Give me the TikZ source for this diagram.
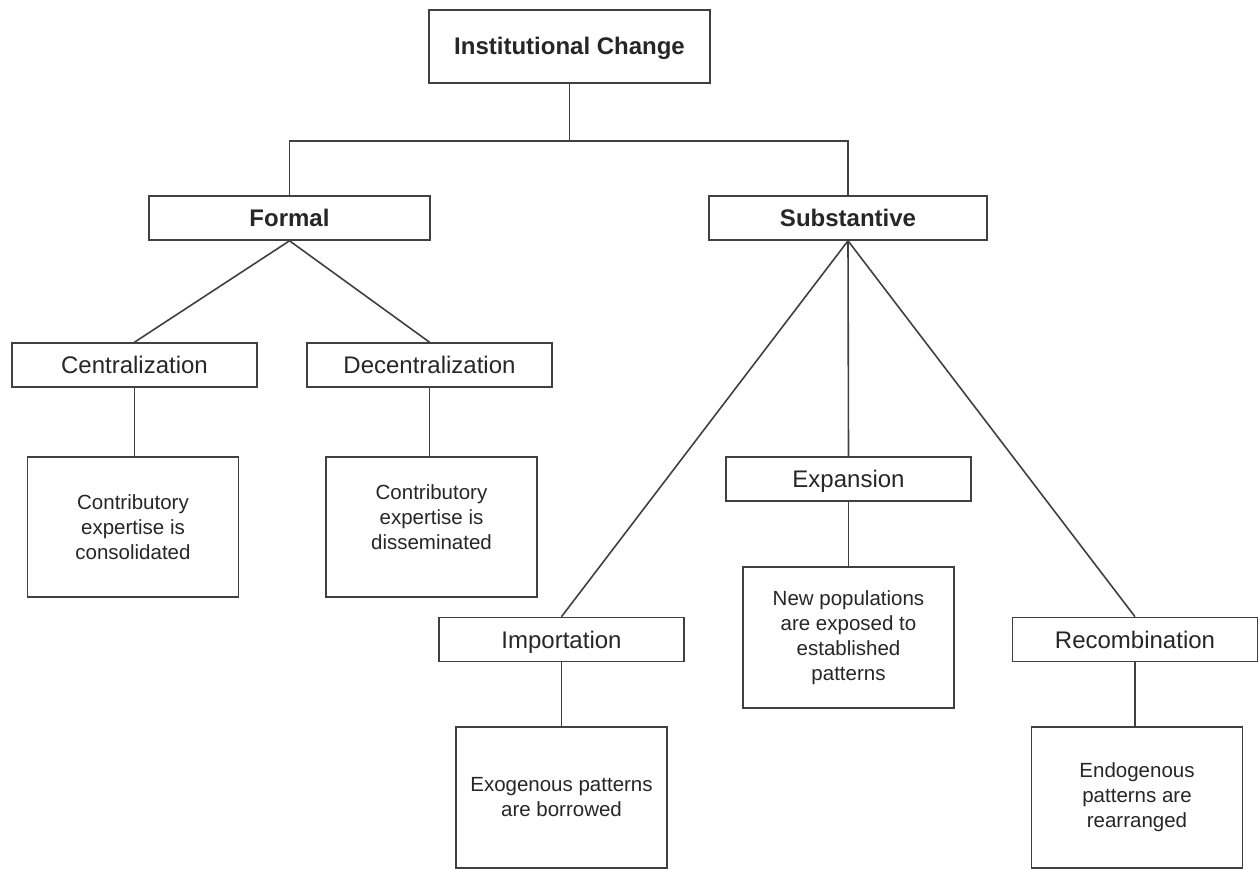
\documentclass[tikz,border=0pt]{standalone}
\usepackage{fontspec}
\setmainfont{Liberation Sans}
\usepackage{tikz}
\usetikzlibrary{positioning}

\begin{document}
\begin{tikzpicture}
                            [x=1pt, y=-1pt,
                             every node/.style={draw=black!75, line width=1.6pt, rectangle, inner sep=0pt,
                                                text=black!85, align=center, font=\fontsize{24}{29}\selectfont},
                             headbox/.style={font=\fontsize{24}{29}\selectfont\bfseries, minimum height=44pt,
                                             text height=18pt, text depth=1pt},
                             labelbox/.style={minimum width=245pt, minimum height=44pt,
                                              text height=18pt, text depth=1pt},
                             leafbox/.style={minimum width=211pt, minimum height=141pt, font=\fontsize{20.5}{25}\selectfont},
                             link/.style={draw=black!75, line width=1.6pt}]

    \useasboundingbox (0,0) rectangle (1258,869);

    % Top level
    \node[headbox, minimum width=281pt, minimum height=73pt] (root) at (569.5,46.5) {Institutional Change};
    \node[headbox, minimum width=281pt] (formal) at (289.5,218) {Formal};
    \node[headbox, minimum width=278pt] (subst) at (848,218) {Substantive};

    % Formal branch
    \node[labelbox] (central) at (134.5,365) {Centralization};
    \node[labelbox] (decentral) at (429.5,365) {Decentralization};
    \node[leafbox, minimum height=140pt] (consol) at (133,527) {Contributory\\expertise is\\consolidated};
    \node[leafbox, minimum height=140pt] (dissem) at (431.5,527) {Contributory\\expertise is\\disseminated\\[-5pt]\mbox{}};

    % Substantive branch
    \node[labelbox] (expan) at (848.5,479) {Expansion};
    \node[leafbox] (newpop) at (848.5,637.5) {New populations\\are exposed to\\established\\patterns};
    \node[labelbox] (import) at (561.5,639.5) {Importation};
    \node[leafbox] (borrow) at (561.5,797.5) {Exogenous patterns\\are borrowed};
    \node[labelbox] (recomb) at (1135,639.5) {Recombination};
    \node[leafbox] (rearr) at (1137,797.5) {Endogenous\\patterns are\\rearranged};

    % Connectors
    \draw[link] (root.south) -- ++(0,57) coordinate (split);
    \draw[link] (formal.north) |- (split) -| (subst.north);
    \draw[link] (formal.south) -- (central.north);
    \draw[link] (formal.south) -- (decentral.north);
    \draw[link] (central.south) -- (central.south |- consol.north);
    \draw[link] (decentral.south) -- (decentral.south |- dissem.north);
    \draw[link] (subst.south) -- (import.north);
    \draw[link] (subst.south) -- (expan.north);
    \draw[link] (subst.south) -- (recomb.north);
    \draw[link] (expan.south) -- (newpop.north);
    \draw[link] (import.south) -- (borrow.north);
    \draw[link] (recomb.south) -- (recomb.south |- rearr.north);
\end{tikzpicture}
\end{document}
